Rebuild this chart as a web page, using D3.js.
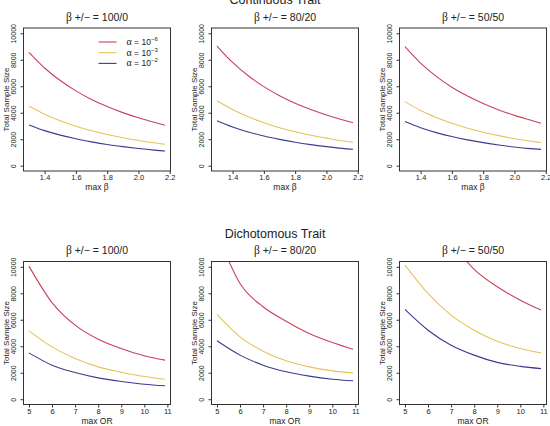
<!DOCTYPE html>
<html>
<head>
<meta charset="utf-8">
<script src="https://cdn.jsdelivr.net/npm/d3@7"></script>
<style>
  body { margin: 0; background: #fff; }
  svg { display: block; }
  text { font-family: "Liberation Sans", Arial, sans-serif; fill: #222; }
</style>
</head>
<body>
<div class="chart"></div>
<script>
// x values
var betaMax = [1.3, 1.4, 1.5, 1.6, 1.7, 1.8, 1.9, 2.0, 2.1, 2.17];
var orMax = [5, 6, 7, 8, 9, 10, 10.9];

// tick values
var yTicks = [0, 2000, 4000, 6000, 8000, 10000];
var betaTicks = [1.4, 1.6, 1.8, 2.0, 2.2];
var orTicks = [5, 6, 7, 8, 9, 10, 11];

// series: alpha = 1e-6, 1e-3, 1e-2
var alphaExp = ["\u22126", "\u22123", "\u22122"];
var splits = ["100/0", "80/20", "50/50"];

// Continuous trait, total sample size
var cont100 = [
  [8560, 7380, 6430, 5650, 5000, 4470, 4010, 3620, 3280, 3060],
  [4510, 3890, 3390, 2980, 2640, 2360, 2110, 1900, 1730, 1620],
  [3080, 2650, 2310, 2030, 1800, 1600, 1440, 1300, 1180, 1110]
];
var cont80 = [
  [9040, 7800, 6790, 5970, 5290, 4720, 4240, 3830, 3470, 3240],
  [4910, 4240, 3690, 3240, 2870, 2560, 2300, 2080, 1880, 1770],
  [3400, 2930, 2550, 2240, 1990, 1770, 1590, 1440, 1310, 1240]
];
var cont50 = [
  [8990, 7750, 6750, 5930, 5260, 4690, 4210, 3800, 3450, 3210],
  [4840, 4170, 3640, 3200, 2830, 2530, 2270, 2040, 1860, 1750],
  [3330, 2870, 2500, 2200, 1950, 1740, 1560, 1410, 1290, 1230]
];

// Dichotomous trait, total sample size
var dich100 = [
  [10050, 7300, 5590, 4530, 3830, 3280, 2950],
  [5160, 3950, 3070, 2440, 2040, 1710, 1510],
  [3500, 2570, 2010, 1610, 1340, 1130, 1010]
];
var dich80 = [
  [12600, 8740, 6980, 5890, 4960, 4280, 3780],
  [6400, 4710, 3630, 2900, 2440, 2140, 1990],
  [4410, 3330, 2570, 2070, 1740, 1510, 1390]
];
var dich50 = [
  [17500, 14200, 11900, 9800, 8490, 7480, 6730],
  [10130, 7990, 6350, 5210, 4380, 3830, 3500],
  [6780, 5210, 4080, 3330, 2780, 2480, 2310]
];

var colors = ["#c9415a", "#e8c25a", "#3c3b8e"];

var svgWidth = 550;
var svgHeight = 426;
var boxW = 147;
var boxH = 143;
var colX = [23.5, 211.5, 399.5];
var rowY = [28, 261.5];

var svg = d3.select(".chart")
  .append("svg")
  .attr("width", svgWidth)
  .attr("height", svgHeight);

// R style axis range: data extent padded by 4%
function rRange(ext) {
  var pad = (ext[1] - ext[0]) * 0.04;
  return [ext[0] - pad, ext[1] + pad];
}

var rows = [
  { title: "Continuous Trait", xs: betaMax, ticks: betaTicks, fmt: d3.format(".1f"), xlab: "max ", xsym: "\u03b2", data: [cont100, cont80, cont50] },
  { title: "Dichotomous Trait", xs: orMax, ticks: orTicks, fmt: d3.format("d"), xlab: "max OR", xsym: "", data: [dich100, dich80, dich50] }
];

var yScale = d3.scaleLinear()
  .domain(rRange([0, 10000]))
  .range([boxH, 0]);

rows.forEach(function(row, r) {
  // row title
  svg.append("text")
    .attr("x", svgWidth / 2)
    .attr("y", rowY[r] - 24)
    .attr("text-anchor", "middle")
    .attr("font-size", 12.5)
    .text(row.title);

  var xScale = d3.scaleLinear()
    .domain(rRange(d3.extent(row.xs)))
    .range([0, boxW]);

  row.data.forEach(function(series, c) {
    var g = svg.append("g")
      .attr("transform", `translate(${colX[c]}, ${rowY[r]})`);

    var clipId = "clip" + r + c;
    g.append("clipPath").attr("id", clipId)
      .append("rect").attr("width", boxW).attr("height", boxH);

    // panel title
    var t = g.append("text")
      .attr("x", boxW / 2)
      .attr("y", -7.5)
      .attr("text-anchor", "middle")
      .attr("font-size", 10.5);
    t.append("tspan").attr("font-family", "Liberation Serif, serif").attr("font-size", 11.5).text("\u03b2");
    t.append("tspan").text(" +/\u2212 = " + splits[c]);

    // curves
    var line = d3.line()
      .x(function(d) { return xScale(d[0]); })
      .y(function(d) { return yScale(d[1]); })
      .curve(d3.curveMonotoneX);

    var lines = g.append("g").attr("clip-path", `url(#${clipId})`);
    series.forEach(function(vals, i) {
      lines.append("path")
        .datum(row.xs.map(function(x, k) { return [x, vals[k]]; }))
        .attr("d", line)
        .attr("fill", "none")
        .attr("stroke", colors[i])
        .attr("stroke-width", 1.1);
    });

    // axes
    var bottomAxis = d3.axisBottom(xScale).tickValues(row.ticks).tickFormat(row.fmt).tickSize(3).tickSizeOuter(0);
    var leftAxis = d3.axisLeft(yScale).tickValues(yTicks).tickFormat(d3.format("d")).tickSize(3).tickSizeOuter(0);

    var xa = g.append("g")
      .attr("transform", `translate(0, ${boxH})`)
      .call(bottomAxis);
    xa.select(".domain").remove();
    xa.selectAll("line").attr("stroke", "#333");
    xa.selectAll("text")
      .attr("y", 9).attr("dy", 0)
      .attr("font-size", 7.5).attr("fill", "#222");

    var ya = g.append("g").call(leftAxis);
    ya.select(".domain").remove();
    ya.selectAll("line").attr("stroke", "#333");
    ya.selectAll("text")
      .attr("transform", "rotate(-90)")
      .attr("x", 0).attr("y", -7.5).attr("dy", 0)
      .attr("text-anchor", "middle")
      .attr("font-size", 7).attr("fill", "#222");
    xa.attr("font-family", null).attr("font-size", null);
    ya.attr("font-family", null).attr("font-size", null);

    // box
    g.append("rect")
      .attr("width", boxW).attr("height", boxH)
      .attr("fill", "none")
      .attr("stroke", "#333")
      .attr("stroke-width", 1);

    // axis labels
    var xl = g.append("text")
      .attr("x", boxW / 2)
      .attr("y", boxH + 19)
      .attr("text-anchor", "middle")
      .attr("font-size", 8.5)
      .text(row.xlab);
    if (row.xsym) xl.append("tspan").attr("font-family", "Liberation Serif, serif").attr("font-size", 9.5).text(row.xsym);

    g.append("text")
      .attr("transform", `translate(${-15}, ${boxH / 2}) rotate(-90)`)
      .attr("text-anchor", "middle")
      .attr("font-size", 8)
      .text("Total Sample Size");

    // legend in first panel
    if (r === 0 && c === 0) {
      alphaExp.forEach(function(e, i) {
        var ly = 14 + i * 10.7;
        g.append("line")
          .attr("x1", 75).attr("x2", 93)
          .attr("y1", ly).attr("y2", ly)
          .attr("stroke", colors[i]).attr("stroke-width", 1.1);
        var lt = g.append("text")
          .attr("x", 103)
          .attr("y", ly + 3)
          .attr("font-size", 8.5);
        lt.append("tspan").attr("font-family", "Liberation Serif, serif").attr("font-size", 10).text("\u03b1");
        lt.append("tspan").text(" = 10");
        lt.append("tspan").attr("font-size", 6).attr("dy", -4).text(e);
      });
    }
  });
});
</script>
</body>
</html>
